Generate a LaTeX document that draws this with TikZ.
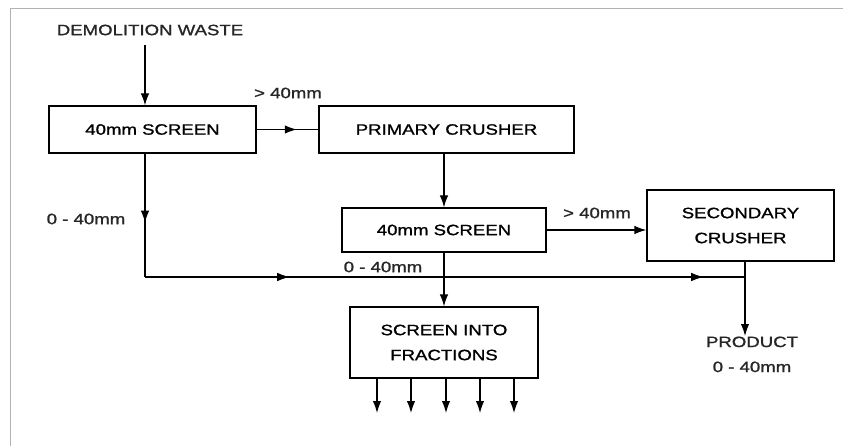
\documentclass[tikz,border=0pt]{standalone}
\usepackage{fontspec}
\newfontfamily\diafont[FakeStretch=1.24,FakeBold=1.2]{Liberation Sans}
\usetikzlibrary{arrows.meta,decorations.markings}
\begin{document}
\begin{tikzpicture}[x=1pt,y=-1pt,
  font=\diafont\fontsize{15}{25}\selectfont,
  line width=1.2pt,
  tip/.tip={Latex[length=12pt,width=8.5pt]},
  box/.style={draw,rectangle,inner sep=0pt,align=center},
  lbl/.style={inner sep=0pt,align=center,text=black!85},
  arr/.style={-{tip}},
  midarr/.style={postaction={decorate},decoration={markings,mark=at position #1 with {\arrow{tip}}}}
]
\useasboundingbox (0,0) rectangle (843,446);
\draw[gray!60,line width=0.8pt] (10,446) -- (10,8) -- (843,8);

\node[lbl] (dw) at (150,30) {DEMOLITION WASTE};
\node[box,minimum width=207pt,minimum height=47pt] (s1) at (152.5,129.5) {40mm SCREEN};
\node[box,minimum width=255pt,minimum height=47pt] (pc) at (446.5,129.5) {PRIMARY CRUSHER};
\node[box,minimum width=204pt,minimum height=44pt] (s2) at (444,230) {40mm SCREEN};
\node[box,minimum width=187pt,minimum height=71pt] (sc) at (740.5,225.5) {SECONDARY\\CRUSHER};
\node[box,minimum width=188pt,minimum height=71pt] (sf) at (444,342.5) {SCREEN INTO\\FRACTIONS};
\node[lbl,anchor=north] (prod) at (752,336) {PRODUCT\\0 - 40mm};

\node[lbl] (l1) at (288,93) {> 40mm};
\node[lbl] (l2) at (597,213) {> 40mm};
\node[lbl] (l3) at (86,219) {0 - 40mm};
\node[lbl] (l4) at (383,267) {0 - 40mm};

\coordinate (dwp) at (145,45);
\coordinate (c1) at (145,277);
\coordinate (j) at (745,277);

\draw[arr] (dwp) -- (s1.north -| dwp);
\draw[midarr=0.65] (s1.east) -- (pc.west);
\draw[arr] (pc.south -| s2.north) -- (s2.north);
\draw[arr] (s2.east) -- (sc.west |- s2.east);
\draw[midarr=0.56] (s1.south -| c1) -- (c1);
\draw[midarr=0.24,midarr=0.93] (c1) -- (j);
\draw[arr] (sc.south -| j) -- (prod.north -| j);
\draw[arr] (s2.south) -- (sf.north);
\foreach \x [count=\i] in {377,411,446,480,514} {
  \coordinate (o\i) at (\x,413);
  \draw[arr] (sf.south -| o\i) -- (o\i);
}
\end{tikzpicture}
\end{document}
